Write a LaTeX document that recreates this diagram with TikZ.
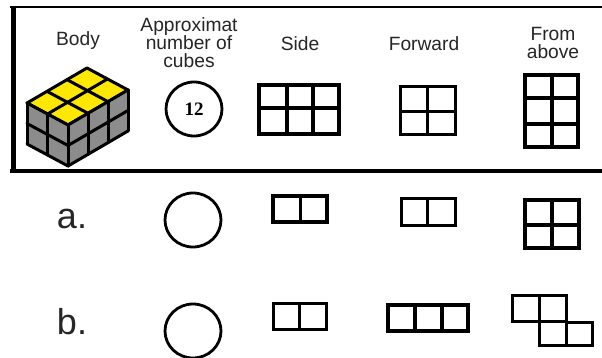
\documentclass[tikz,border=0pt]{standalone}
\usepackage{fontspec}
\setmainfont{Liberation Sans}
\newfontfamily\numfont{Liberation Serif}
\usetikzlibrary{shapes.geometric}
\tikzset{
  head/.style={font=\fontsize{19.2}{18}\selectfont,align=center,inner sep=0pt,text=black!85},
  rowlabel/.style={font=\fontsize{36}{36}\selectfont,inner sep=0pt,text=black!85},
  count/.style={draw=black,line width=2.8pt,ellipse,inner sep=0pt,minimum width=56pt,minimum height=54pt},
  grid/.style={draw=black,line width=3pt,line cap=rect},
  heavy/.style={draw=black,line width=3.8pt,line cap=rect},
  edge3d/.style={draw=black,line width=3pt,line join=round,line cap=round}
}
\begin{document}
\begin{tikzpicture}[x=1pt,y=-1pt]
\useasboundingbox (0,0) rectangle (602,358);
\fill[white] (0,0) rectangle (602,358);
% frame
\draw[black,line width=2.5pt] (10,7) -- (602,7);
\draw[black,line width=3.5pt] (10,171) -- (602,171);
\draw[black,line width=5pt] (13.5,6) -- (13.5,172);
% headers
\node[head] (hbody) at (78,41) {Body};
\node[head] (happrox) at (189,43) {Approximat\\number of\\cubes};
\node[head] (hside) at (300,44) {Side};
\node[head] (hfwd) at (424,43.5) {Forward};
\node[head] (habove) at (553,43) {From\\above};
% body: cubes
\begin{scope}[shift={(68,125)},x={(20pt,11.67pt)},y={(-20.5pt,11pt)}]
  \fill[yellow!90!orange] (0,0) -- (3,0) -- (3,2) -- (0,2) -- cycle;
  \foreach \i in {0,...,3} \draw[edge3d] (\i,0) -- (\i,2);
  \foreach \j in {0,1,2} \draw[edge3d] (0,\j) -- (3,\j);
\end{scope}
\begin{scope}[shift={(68,125)},x={(20pt,11.67pt)},y={(0pt,-20.5pt)}]
  \fill[black!45] (0,0) -- (3,0) -- (3,2) -- (0,2) -- cycle;
  \foreach \i in {0,...,3} \draw[edge3d] (\i,0) -- (\i,2);
  \foreach \j in {0,1,2} \draw[edge3d] (0,\j) -- (3,\j);
\end{scope}
\begin{scope}[shift={(68,125)},x={(-20.5pt,11pt)},y={(0pt,-20.5pt)}]
  \fill[black!45] (0,0) -- (2,0) -- (2,2) -- (0,2) -- cycle;
  \foreach \i in {0,1,2} \draw[edge3d] (\i,0) -- (\i,2);
  \foreach \j in {0,1,2} \draw[edge3d] (0,\j) -- (2,\j);
\end{scope}
% count circles
\node[count,font=\numfont\bfseries\fontsize{19}{19}\selectfont] (c0) at (194,109) {12};
\node[count] (c1) at (193,220) {};
\node[count] (c2) at (193,331) {};
% header row grids
\draw[heavy] (259,85) rectangle (339,134);
\draw[heavy] (287,85) -- (287,134) (313,85) -- (313,134) (259,108) -- (339,108);
\draw[grid] (400,87) rectangle (455,135);
\draw[grid] (427,87) -- (427,135) (400,112) -- (455,112);
\draw[heavy] (525,75) rectangle (578,147);
\draw[heavy] (552,75) -- (552,147) (525,98) -- (578,98) (525,124) -- (578,124);
% row a
\node[rowlabel] (la) at (72,219) {a.};
\draw[heavy] (273,196) rectangle (327,222);
\draw[grid] (300,196) -- (300,222);
\draw[grid] (401,199) rectangle (455,225);
\draw[grid] (427,199) -- (427,225);
\draw[heavy] (525,200) rectangle (579,248);
\draw[heavy] (552,200) -- (552,248) (525,225) -- (579,225);
% row b
\node[rowlabel] (lb) at (72,322) {b.};
\draw[grid] (273,303) rectangle (326,329);
\draw[grid] (299,303) -- (299,329);
\draw[heavy] (388,305) rectangle (468,331);
\draw[heavy] (415,305) -- (415,331) (442,305) -- (442,331);
\draw[grid] (512,295) rectangle (566,321);
\draw[grid] (539,295) -- (539,321);
\draw[grid] (539,321) rectangle (566,345);
\draw[grid] (566,322) rectangle (592,345);
\end{tikzpicture}
\end{document}
